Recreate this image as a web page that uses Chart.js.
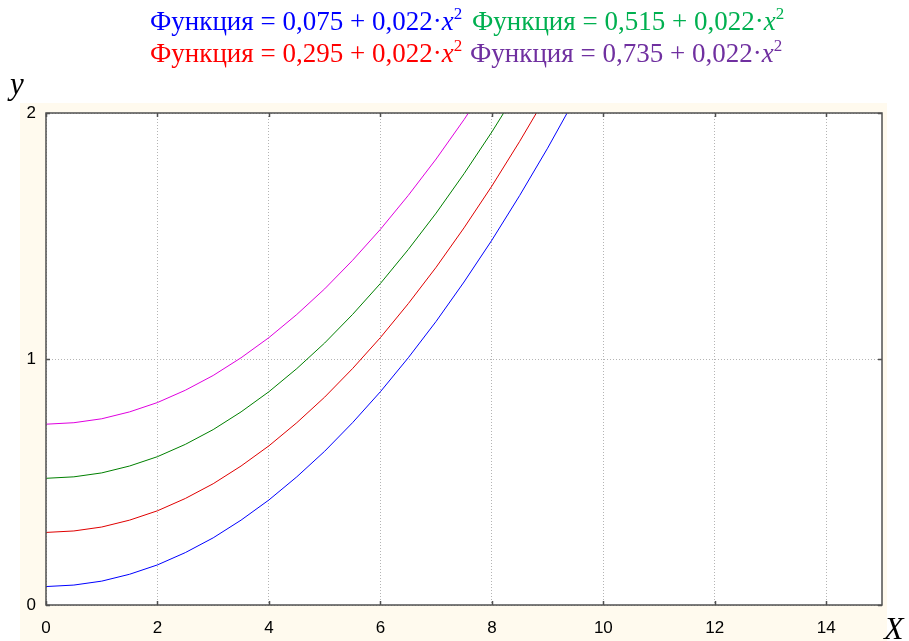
<!DOCTYPE html>
<html>
<head>
<meta charset="utf-8">
<script src="https://cdn.jsdelivr.net/npm/chart.js@4.4.1/dist/chart.umd.min.js"></script>
<style>
    html, body { margin: 0; padding: 0; background: #ffffff; }
    #wrap { position: relative; width: 909px; height: 641px; overflow: hidden; }
    #chart { position: absolute; left: 0; top: 0; }
    .leg { position: absolute; font-family: "Liberation Serif", "Times New Roman", serif; font-size: 27px; white-space: nowrap; line-height: 1; }
    .leg i { font-style: italic; }
    .leg sup { font-size: 17px; vertical-align: 0; position: relative; top: -11px; }
    .axt { position: absolute; font-family: "Liberation Serif", "Times New Roman", serif; font-style: italic; line-height: 1; }
</style>
</head>
<body>
<div id="wrap">
    <canvas id="chart" width="909" height="641"></canvas>
    <div class="leg" style="left:150px; top:8px; color:#0000ff;">Функция = 0,075 + 0,022·<i>x</i><sup>2</sup></div>
    <div class="leg" style="left:472px; top:8px; color:#00b050;">Функция = 0,515 + 0,022·<i>x</i><sup>2</sup></div>
    <div class="leg" style="left:150px; top:40px; color:#ff0000;">Функция = 0,295 + 0,022·<i>x</i><sup>2</sup></div>
    <div class="leg" style="left:470px; top:40px; color:#7030a0;">Функция = 0,735 + 0,022·<i>x</i><sup>2</sup></div>
    <div class="axt" style="left:10px; top:68px; font-size:31px;">y</div>
    <div class="axt" style="left:884px; top:612px; font-size:32px;">X</div>
</div>
<script>
// Values
const xValues = [0, 0.5, 1, 1.5, 2, 2.5, 3, 3.5, 4, 4.5, 5, 5.5, 6, 6.5, 7, 7.5, 8, 8.5, 9, 9.5, 10];
const blueValues = [0.075, 0.081, 0.097, 0.125, 0.163, 0.213, 0.273, 0.345, 0.427, 0.521, 0.625, 0.741, 0.867, 1.005, 1.153, 1.313, 1.483, 1.665, 1.857, 2.061, 2.275];
const redValues = [0.295, 0.301, 0.317, 0.345, 0.383, 0.433, 0.493, 0.565, 0.647, 0.741, 0.845, 0.961, 1.087, 1.225, 1.373, 1.533, 1.703, 1.885, 2.077, 2.281, 2.495];
const greenValues = [0.515, 0.521, 0.537, 0.565, 0.603, 0.653, 0.713, 0.785, 0.867, 0.961, 1.065, 1.181, 1.307, 1.445, 1.593, 1.753, 1.923, 2.105, 2.297, 2.501, 2.715];
const magentaValues = [0.735, 0.741, 0.757, 0.785, 0.823, 0.873, 0.933, 1.005, 1.087, 1.181, 1.285, 1.401, 1.527, 1.665, 1.813, 1.973, 2.143, 2.325, 2.517, 2.721, 2.935];

const xTicks = [0, 2, 4, 6, 8, 10, 12, 14];
const yTicks = [0, 1, 2];

function toPoints(ys) {
    return xValues.map((x, i) => ({ x: x, y: ys[i] }));
}

// cream panel + white plot area, frame and inward ticks
const framePlugin = {
    id: 'frame',
    beforeDraw(chart) {
        const c = chart.ctx;
        const a = chart.chartArea;
        c.save();
        c.fillStyle = '#fffaee';
        c.fillRect(20, 103, 867, 538);
        c.fillStyle = '#ffffff';
        c.fillRect(a.left, a.top, a.right - a.left, a.bottom - a.top);
        c.restore();
    },
    afterDraw(chart) {
        const c = chart.ctx;
        const a = chart.chartArea;
        const xs = chart.scales.x;
        const ys = chart.scales.y;
        c.save();
        c.strokeStyle = '#505050';
        c.lineWidth = 1.5;
        c.strokeRect(a.left, a.top, a.right - a.left, a.bottom - a.top);
        c.beginPath();
        xTicks.forEach(v => {
            const px = Math.round(xs.getPixelForValue(v)) + 0.5;
            c.moveTo(px, a.bottom);
            c.lineTo(px, a.bottom - 4);
            c.moveTo(px, a.top);
            c.lineTo(px, a.top + 4);
        });
        yTicks.forEach(v => {
            const py = Math.round(ys.getPixelForValue(v)) + 0.5;
            c.moveTo(a.left, py);
            c.lineTo(a.left + 4, py);
            c.moveTo(a.right, py);
            c.lineTo(a.right - 4, py);
        });
        c.stroke();
        c.restore();
    }
};

function makeSet(ys, color) {
    return {
        data: toPoints(ys),
        borderColor: color,
        borderWidth: 1,
        pointRadius: 0,
        tension: 0,
        fill: false
    };
}

const tickFont = { family: 'Liberation Sans', size: 17 };

new Chart(document.getElementById('chart'), {
    type: 'line',
    data: {
        datasets: [
            makeSet(blueValues, '#0000ff'),
            makeSet(redValues, '#e00000'),
            makeSet(greenValues, '#008000'),
            makeSet(magentaValues, '#e000e0')
        ]
    },
    options: {
        responsive: false,
        animation: false,
        layout: { padding: { left: 0, right: 27, top: 113, bottom: 0 } },
        plugins: { legend: { display: false }, tooltip: { enabled: false } },
        scales: {
            x: {
                type: 'linear',
                min: 0,
                max: 15,
                afterFit: s => { s.height = 36; },
                afterBuildTicks: s => { s.ticks = xTicks.map(v => ({ value: v })); },
                grid: { color: '#b4b4b4', drawTicks: false },
                border: { display: false, dash: [1, 2] },
                ticks: { color: '#000000', padding: 13, font: tickFont }
            },
            y: {
                min: 0,
                max: 2,
                afterFit: s => { s.width = 46; },
                afterBuildTicks: s => { s.ticks = yTicks.map(v => ({ value: v })); },
                grid: { color: '#b4b4b4', drawTicks: false },
                border: { display: false, dash: [1, 2] },
                ticks: { color: '#000000', padding: 10, font: tickFont }
            }
        }
    },
    plugins: [framePlugin]
});
</script>
</body>
</html>
